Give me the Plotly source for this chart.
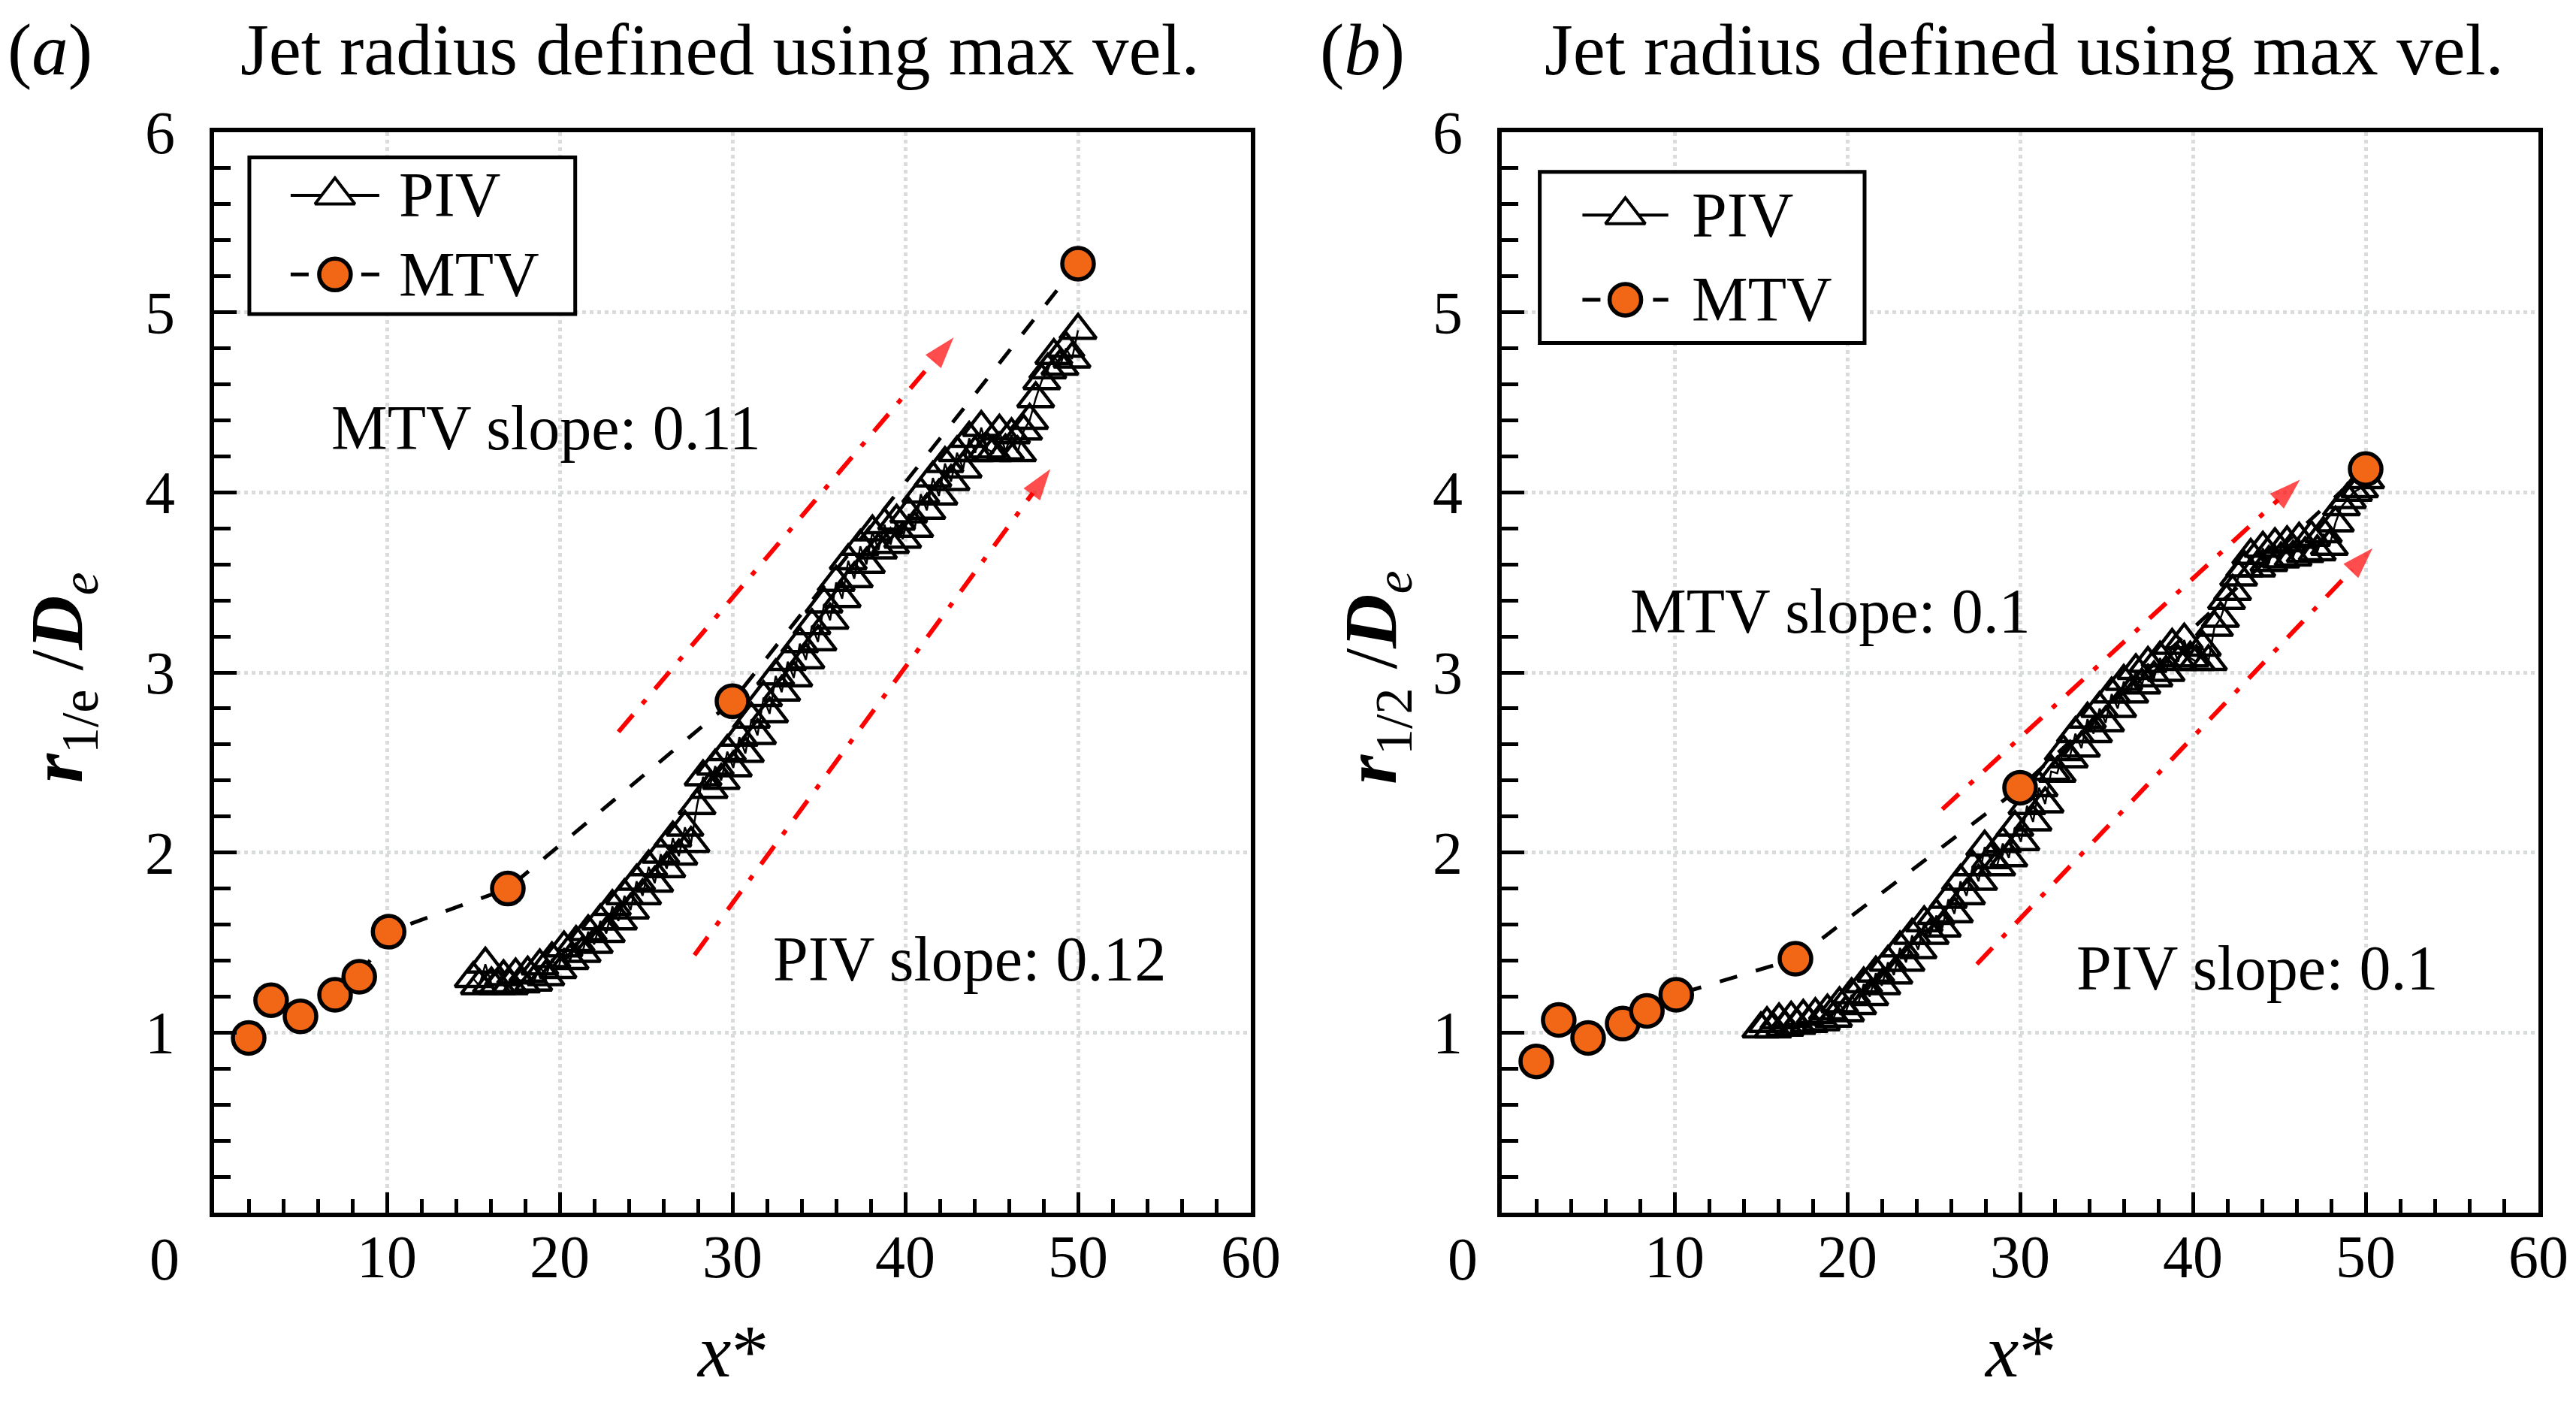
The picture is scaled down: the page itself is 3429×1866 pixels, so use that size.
import plotly.graph_objects as go

# PIV profile stations (x*), shared by both panels
piv_x = [15.00, 15.35, 15.70, 16.05, 16.40, 16.75, 17.10, 17.45, 17.80, 18.15,
         18.50, 18.85, 19.20, 19.55, 19.90, 20.25, 20.60, 20.95, 21.30, 21.65,
         22.00, 22.35, 22.70, 23.05, 23.40, 23.75, 24.10, 24.45, 24.80, 25.15,
         25.50, 25.85, 26.20, 26.55, 26.90, 27.25, 27.60, 27.95, 28.30, 28.65,
         29.00, 29.35, 29.70, 30.05, 30.40, 30.75, 31.10, 31.45, 31.80, 32.15,
         32.50, 32.85, 33.20, 33.55, 33.90, 34.25, 34.60, 34.95, 35.30, 35.65,
         36.00, 36.35, 36.70, 37.05, 37.40, 37.75, 38.10, 38.45, 38.80, 39.15,
         39.50, 39.85, 40.20, 40.55, 40.90, 41.25, 41.60, 41.95, 42.30, 42.65,
         43.00, 43.35, 43.70, 44.05, 44.40, 44.75, 45.10, 45.45, 45.80, 46.15,
         46.50, 46.85, 47.20, 47.55, 47.90, 48.25, 48.60, 48.95, 49.30, 49.65,
         50.00]

# (a) r_1/e / D_e from PIV
piv_r1e = [1.30, 1.26, 1.38, 1.27, 1.26, 1.31, 1.26, 1.32, 1.27, 1.33,
           1.28, 1.37, 1.31, 1.41, 1.35, 1.47, 1.40, 1.50, 1.44, 1.56,
           1.49, 1.62, 1.55, 1.70, 1.62, 1.76, 1.68, 1.84, 1.76, 1.92,
           1.83, 1.99, 1.91, 2.08, 1.98, 2.14, 2.05, 2.26, 2.42, 2.35,
           2.48, 2.40, 2.56, 2.47, 2.64, 2.55, 2.74, 2.65, 2.86, 2.77,
           2.98, 2.89, 3.06, 2.97, 3.16, 3.07, 3.26, 3.17, 3.38, 3.29,
           3.50, 3.41, 3.62, 3.52, 3.70, 3.60, 3.78, 3.68, 3.82, 3.71,
           3.84, 3.74, 3.88, 3.80, 3.99, 3.90, 4.08, 3.98, 4.16, 4.06,
           4.22, 4.13, 4.30, 4.22, 4.36, 4.24, 4.22, 4.34, 4.23, 4.32,
           4.22, 4.34, 4.40, 4.52, 4.62, 4.68, 4.76, 4.70, 4.80, 4.74,
           4.90]

# (b) r_1/2 / D_e from PIV
piv_r12 = [1.02, 1.05, 1.02, 1.07, 1.03, 1.08, 1.04, 1.09, 1.05, 1.10,
           1.06, 1.12, 1.08, 1.16, 1.11, 1.21, 1.15, 1.27, 1.20, 1.33,
           1.26, 1.39, 1.32, 1.47, 1.39, 1.54, 1.46, 1.61, 1.54, 1.65,
           1.58, 1.74, 1.66, 1.84, 1.76, 1.92, 1.84, 2.03, 1.96, 1.92,
           2.05, 1.97, 2.14, 2.06, 2.26, 2.17, 2.36, 2.27, 2.45, 2.44,
           2.56, 2.52, 2.66, 2.58, 2.74, 2.66, 2.80, 2.72, 2.88, 2.80,
           2.95, 2.88, 3.01, 2.93, 3.05, 2.97, 3.08, 3.00, 3.15, 3.06,
           3.18, 3.08, 3.06, 3.14, 3.06, 3.25, 3.30, 3.40, 3.45, 3.53,
           3.58, 3.65, 3.58, 3.69, 3.61, 3.71, 3.63, 3.72, 3.64, 3.74,
           3.66, 3.75, 3.67, 3.77, 3.70, 3.83, 3.92, 3.96, 4.00, 4.02,
           4.07]

# MTV stations and radii
mtv_x = [2.0, 3.3, 5.0, 7.0, 8.4, 10.1, 17.0, 30.0, 50.0]
mtv_r1e = [0.97, 1.18, 1.09, 1.21, 1.31, 1.56, 1.80, 2.84, 5.27]
mtv_r12 = [0.84, 1.07, 0.97, 1.05, 1.12, 1.21, 1.41, 2.36, 4.13]

x_ticks = [0, 10, 20, 30, 40, 50, 60]
x_ticktext = ["", "10", "20", "30", "40", "50", "60"]
y_ticks = [0, 1, 2, 3, 4, 5, 6]
y_ticktext = ["", "1", "2", "3", "4", "5", "6"]

panel_titles = ["Jet radius defined using max vel.", "Jet radius defined using max vel."]
panel_tags = ["(<i>a</i>)", "(<i>b</i>)"]
y_titles = ["<b><i>r</i></b><sub>1/e</sub> /<b><i>D</i></b><sub><i>e</i></sub>",
            "<b><i>r</i></b><sub>1/2</sub> /<b><i>D</i></b><sub><i>e</i></sub>"]
slope_labels = [("MTV slope: 0.11", "PIV slope: 0.12"), ("MTV slope: 0.1", "PIV slope: 0.1")]

# slope guide arrows: (x0, y0, x1, y1) per panel, upper then lower
slope_arrows = [
    [(23.4, 2.67, 42.8, 4.86), (27.8, 1.43, 48.4, 4.13)],
    [(25.5, 2.24, 46.2, 4.07), (27.5, 1.38, 50.4, 3.69)],
]

FONT = "Liberation Serif"
ORANGE = "#F26716"
# the page body adds an 8 px margin, so the figure is drawn 16 px smaller
W, H = 3413, 1850

fig = go.Figure()

panels = [
    dict(xa="x", ya="y", piv=piv_r1e, mtv=mtv_r1e),
    dict(xa="x2", ya="y2", piv=piv_r12, mtv=mtv_r12),
]

for i, p in enumerate(panels):
    fig.add_trace(go.Scatter(
        x=piv_x, y=p["piv"], xaxis=p["xa"], yaxis=p["ya"], mode="lines+markers",
        line=dict(color="black", width=2.5),
        marker=dict(symbol="triangle-up-open", size=42, color="black",
                    line=dict(width=4.5, color="black")),
        showlegend=False,
    ))
    fig.add_trace(go.Scatter(
        x=mtv_x, y=p["mtv"], xaxis=p["xa"], yaxis=p["ya"], mode="lines+markers",
        line=dict(color="black", width=5, dash="24px,26px"),
        marker=dict(symbol="circle", size=42, color=ORANGE,
                    line=dict(width=5.5, color="black")),
        showlegend=False,
    ))
    for (x0, y0, x1, y1) in slope_arrows[i]:
        fig.add_trace(go.Scatter(
            x=[x0, x1], y=[y0, y1], xaxis=p["xa"], yaxis=p["ya"], mode="lines+markers",
            line=dict(color="red", width=6, dash="30px,19px,7px,19px"),
            marker=dict(symbol="arrow", size=[0, 44], angleref="previous", color="red",
                        line=dict(width=0)),
            showlegend=False,
        ))

# hand-drawn legends (box, sample lines, symbols, labels) in data units
legends = [
    dict(box=(2.04, 20.9, 4.99, 5.86), rows=(5.65, 5.21), lx=(4.43, 9.56), tx=10.6),
    dict(box=(2.2, 21.0, 4.83, 5.78), rows=(5.54, 5.07), lx=(4.67, 9.64), tx=10.9),
]
for i, (p, lg) in enumerate(zip(panels, legends)):
    bx0, bx1, by0, by1 = lg["box"]
    fig.add_shape(type="rect", xref=p["xa"], yref=p["ya"], x0=bx0, x1=bx1, y0=by0, y1=by1,
                  line=dict(color="black", width=5), fillcolor="white", layer="between")
    r1, r2 = lg["rows"]
    lx0, lx1 = lg["lx"]
    fig.add_shape(type="line", xref=p["xa"], yref=p["ya"], x0=lx0, x1=lx1, y0=r1, y1=r1,
                  line=dict(color="black", width=4), layer="between")
    fig.add_shape(type="line", xref=p["xa"], yref=p["ya"], x0=lx0, x1=lx1, y0=r2, y1=r2,
                  line=dict(color="black", width=5, dash="24px,70px"), layer="between")
    xm = (lx0 + lx1) / 2
    fig.add_trace(go.Scatter(
        x=[xm], y=[r1], xaxis=p["xa"], yaxis=p["ya"], mode="markers",
        marker=dict(symbol="triangle-up", size=46, color="white",
                    line=dict(width=4, color="black")),
        showlegend=False, hoverinfo="skip",
    ))
    fig.add_trace(go.Scatter(
        x=[xm], y=[r2], xaxis=p["xa"], yaxis=p["ya"], mode="markers",
        marker=dict(symbol="circle", size=42, color=ORANGE, line=dict(width=5.5, color="black")),
        showlegend=False, hoverinfo="skip",
    ))
    for txt, yy in (("PIV", r1), ("MTV", r2)):
        fig.add_annotation(x=lg["tx"], y=yy, xref=p["xa"], yref=p["ya"], text=txt,
                           showarrow=False, xanchor="left", yanchor="middle",
                           font=dict(family=FONT, size=84, color="black"))

# slope texts
slope_pos = [((19.2, 4.36), (43.7, 1.41)), ((19.0, 3.34), (43.7, 1.36))]
for p, labels, pos in zip(panels, slope_labels, slope_pos):
    for txt, (sx, sy) in zip(labels, pos):
        fig.add_annotation(x=sx, y=sy, xref=p["xa"], yref=p["ya"], text=txt, showarrow=False,
                           font=dict(family=FONT, size=84, color="black"))

# panel tags, titles, axis titles, corner zeros (paper coords)
tag_x = [0.0, 0.5118]
title_x = [0.2786, 0.7870]
xt_x = [0.2833, 0.7855]
yt_x = [0.0220, 0.5344]
zero_x = [0.0618, 0.5681]
for i in range(2):
    fig.add_annotation(x=tag_x[i], y=0.9686, xref="paper", yref="paper", text=panel_tags[i],
                       showarrow=False, xanchor="left", yanchor="middle",
                       font=dict(family=FONT, size=97, color="black"))
    fig.add_annotation(x=title_x[i], y=0.9686, xref="paper", yref="paper", text=panel_titles[i],
                       showarrow=False, xanchor="center", yanchor="middle",
                       font=dict(family=FONT, size=97, color="black"))
    fig.add_annotation(x=xt_x[i], y=0.0319, xref="paper", yref="paper", text="<i>x</i>*",
                       showarrow=False, xanchor="center", yanchor="middle",
                       font=dict(family=FONT, size=100, color="black"))
    fig.add_annotation(x=yt_x[i], y=0.5168, xref="paper", yref="paper", text=y_titles[i],
                       showarrow=False, xanchor="center", yanchor="middle", textangle=-90,
                       font=dict(family=FONT, size=100, color="black"))
    fig.add_annotation(x=zero_x[i], y=0.0984, xref="paper", yref="paper", text="0",
                       showarrow=False, xanchor="center", yanchor="middle",
                       font=dict(family=FONT, size=80, color="black"))

axis_common = dict(
    showline=True, linecolor="black", linewidth=6, mirror=True,
    ticks="inside", tickwidth=5, tickcolor="black",
    showgrid=True, gridcolor="#d8dcdc", gridwidth=5, griddash="dot",
    zeroline=False, automargin=False, ticklabeloverflow="allow",
    tickfont=dict(family=FONT, size=80, color="black"),
)
x_axis = dict(axis_common, range=[0, 60], tickmode="array", tickvals=x_ticks, ticktext=x_ticktext,
              ticklen=27, ticklabelstandoff=-16,
              minor=dict(tickmode="linear", tick0=0, dtick=2, ticks="inside", ticklen=18,
                         tickwidth=5, tickcolor="black", showgrid=False))
y_axis = dict(axis_common, range=[0, 6], tickmode="array", tickvals=y_ticks, ticktext=y_ticktext,
              ticklen=30, ticklabelstandoff=30,
              minor=dict(tickmode="linear", tick0=0, dtick=0.2, ticks="inside", ticklen=22,
                         tickwidth=5, tickcolor="black", showgrid=False))

y_dom = [1 - 1606 / H, 1 - 168 / H]
fig.update_layout(
    width=W, height=H, margin=dict(l=0, r=0, t=0, b=0, pad=0, autoexpand=False),
    paper_bgcolor="white", plot_bgcolor="white", showlegend=False,
    xaxis=dict(x_axis, domain=[277 / W, 1657 / W], anchor="y"),
    yaxis=dict(y_axis, domain=y_dom, anchor="x"),
    xaxis2=dict(x_axis, domain=[1991 / W, 3371 / W], anchor="y2"),
    yaxis2=dict(y_axis, domain=y_dom, anchor="x2"),
)

fig.write_html("out.html")
